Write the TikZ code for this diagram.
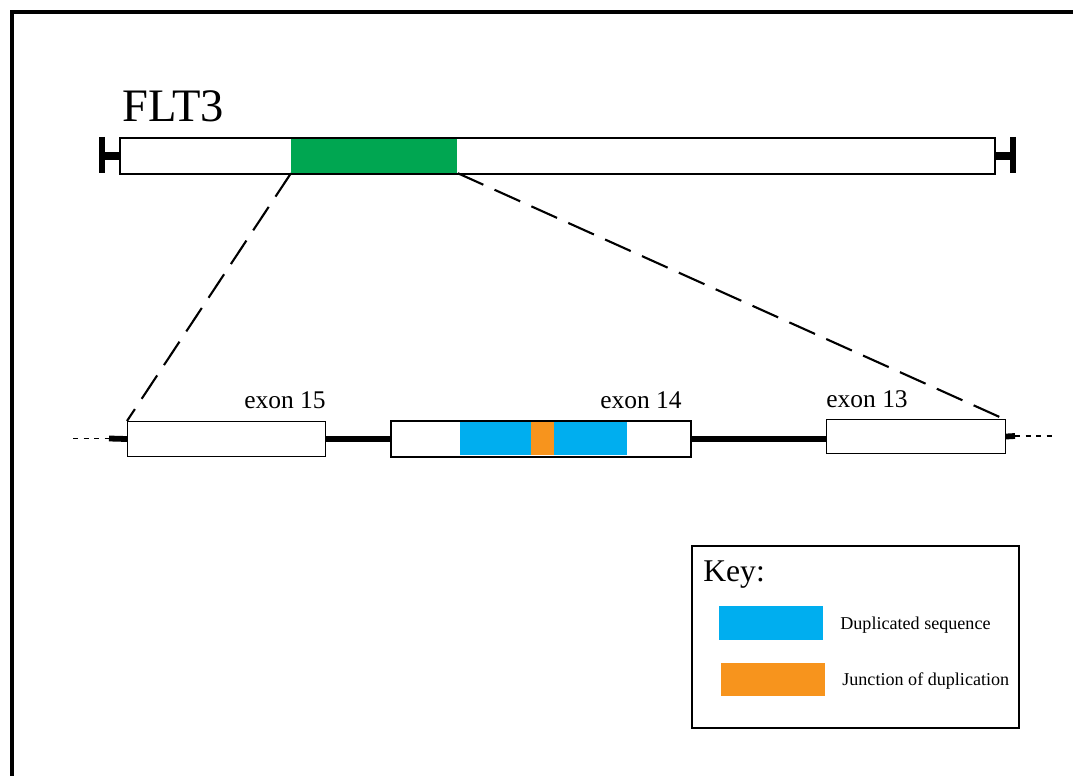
\documentclass[tikz,border=0pt]{standalone}
\usepackage{fontspec}
\setmainfont{Liberation Serif}
\usetikzlibrary{positioning}
\definecolor{itdgreen}{HTML}{00A651}
\definecolor{dupblue}{HTML}{00AEEF}
\definecolor{junorange}{HTML}{F7941D}
\tikzset{
  exonbox/.style={draw, line width=0.6pt, fill=white, inner sep=0pt, anchor=north west},
  intron/.style={line width=3.3pt},
  flank/.style={line width=0.9pt, dash pattern=on 3pt off 3pt},
  zoomline/.style={line width=1.2pt, dash pattern=on 16pt off 7pt},
  lbl/.style={inner sep=0pt, anchor=base west}
}
\begin{document}
\begin{tikzpicture}[x=0.02cm, y=-0.02cm]
      \def\u{0.02cm}
      \useasboundingbox (0,0) rectangle (1073,776);
      %
      \draw[line width=2.2pt] (12,776) -- (12,12) -- (1073,12);   % frame
      %
      \node[exonbox, minimum width=874*\u, minimum height=35*\u] (gene) at (120,138) {};   % gene bar
      \node[inner sep=0pt, fill=itdgreen, anchor=north west, minimum width=166*\u, minimum height=34*\u] (itd) at (291,138.5) {};
      \draw[line width=0.6pt] (gene.north west) rectangle (gene.south east);
      \node[lbl, font=\fontsize{26.5}{30}\selectfont] (name) at (122,122) {FLT3};
      %
      \draw[line width=4.5pt] (gene.west) -- ++(-18,0);   % caps
      \draw[line width=3.2pt] (102,137) -- (102,173);
      \draw[line width=4.5pt] (gene.east) -- ++(18,0);
      \draw[line width=3.2pt] (1013,137) -- (1013,173);
      %
      \node[exonbox, minimum width=198*\u, minimum height=35*\u] (ex15) at (127,421) {};
      \node[exonbox, minimum width=299*\u, minimum height=35*\u] (ex14) at (391,421) {};
      \node[exonbox, minimum width=179*\u, minimum height=34*\u] (ex13) at (826,419) {};
      %
      \fill[dupblue] (460,421.5) rectangle (531,455.5);
      \fill[junorange] (531,421.5) rectangle (554,455.5);
      \fill[dupblue] (554,421.5) rectangle (627,455.5);
      \draw[line width=0.6pt] (ex14.north west) rectangle (ex14.south east);
      %
      \coordinate (lend) at (73,438.5);
      \coordinate (lcut) at (109,438.5);
      \coordinate (rcut) at (1015,436);
      \coordinate (rend) at (1057,436);
      \draw[flank] (lend) -- (lcut);
      \draw[intron] (lcut) -- (ex15.west);
      \draw[intron] (ex15.east) -- (ex14.west);
      \draw[intron] (ex14.east) -- (ex14.east -| ex13.west);
      \draw[intron] (ex13.east) -- (rcut);
      \draw[flank] (rcut) -- (rend);
      %
      \node[lbl, font=\fontsize{14.5}{16}\selectfont] (t15) at (244,409) {exon 15};
      \node[lbl, font=\fontsize{14.5}{16}\selectfont] (t14) at (600,409) {exon 14};
      \node[lbl, font=\fontsize{14.5}{16}\selectfont] (t13) at (826,408) {exon 13};
      %
      \draw[zoomline] (itd.south west) -- (ex15.north west);   % zoom lines
      \draw[zoomline] (itd.south east) -- ([xshift=-2*\u]ex13.north east);
      %
      \node[draw, line width=1pt, inner sep=0pt, anchor=north west, minimum width=327*\u, minimum height=182*\u] (key) at (691,545) {};
      \node[lbl, font=\fontsize{18}{20}\selectfont] (keyt) at (703,582) {Key:};
      \node[inner sep=0pt, fill=dupblue, anchor=north west, minimum width=104*\u, minimum height=34*\u] (swdup) at (719,606) {};
      \node[inner sep=0pt, fill=junorange, anchor=north west, minimum width=104*\u, minimum height=33*\u] (swjun) at (721,663) {};
      \node[lbl, font=\fontsize{10.3}{12}\selectfont] (tdup) at (840,630) {Duplicated sequence};
      \node[lbl, font=\fontsize{10.3}{12}\selectfont] (tjun) at (842,686) {Junction of duplication};
      %
    \end{tikzpicture}
\end{document}
